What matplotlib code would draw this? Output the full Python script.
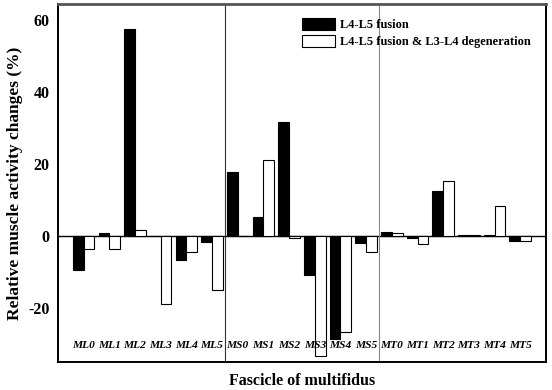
import numpy as np
import matplotlib
matplotlib.use('Agg')
import matplotlib.pyplot as plt

# Dữ liệu
categories = ['ML0', 'ML1', 'ML2', 'ML3', 'ML4', 'ML5',
              'MS0', 'MS1', 'MS2', 'MS3', 'MS4', 'MS5',
              'MT0', 'MT1', 'MT2', 'MT3', 'MT4', 'MT5']
fusion = [-9.3, 0.9, 57.7, 0.0, -6.6, -1.7,
          17.9, 5.3, 31.7, -10.9, -28.7, -1.9,
          1.2, -0.4, 12.5, 0.3, 0.3, -1.4]
fusion_degen = [-3.7, -3.7, 1.8, -19.0, -4.4, -15.1,
                0.0, 21.1, -0.4, -33.3, -26.8, -4.4,
                1.0, -2.1, 15.3, 0.3, 8.5, -1.3]
y_ticks = [-20, 0, 20, 40, 60]

plt.rcParams['font.family'] = ['Liberation Serif', 'DejaVu Serif']
plt.rcParams['font.weight'] = 'bold'

fig = plt.figure(figsize=(5.52, 3.90), dpi=100)
ax = fig.add_axes([0.105, 0.072, 0.884, 0.918])

x = np.arange(len(categories))
w = 0.42
ax.bar(x - w / 2, fusion, w, color='black', edgecolor='black', linewidth=0.8,
       label='L4-L5 fusion')
ax.bar(x + w / 2, fusion_degen, w, color='white', edgecolor='black', linewidth=0.8,
       label='L4-L5 fusion & L3-L4 degeneration')

ax.axhline(0, color='black', linewidth=1.0, zorder=0)
ax.axvline(5.5, color='#333333', linewidth=0.8, zorder=0)
ax.axvline(11.5, color='#888888', linewidth=0.8, zorder=0)

# Nhãn danh mục bên trong trục
for xi, name in zip(x, categories):
    ax.text(xi, -30.5, name, ha='center', va='center', fontsize=8.2,
            style='italic', fontweight='bold')

ax.set_xlim(-1, 18)
ax.set_ylim(-35, 64.6)
ax.set_xticks([])
ax.set_yticks(y_ticks)
ax.set_yticklabels([str(t) for t in y_ticks], fontsize=11.5, fontweight='bold')
ax.tick_params(axis='y', length=0, pad=6)

for s in ['left', 'right', 'bottom']:
    ax.spines[s].set_linewidth(1.4)
    ax.spines[s].set_color('black')
ax.spines['top'].set_linewidth(2.0)
ax.spines['top'].set_color('#555555')

ax.set_ylabel('Relative muscle activity changes (%)', fontsize=12.5, fontweight='bold',
              labelpad=4)
ax.set_xlabel('Fascicle of multifidus', fontsize=11.5, fontweight='bold', labelpad=8)

ax.legend(loc='upper left', bbox_to_anchor=(0.482, 0.985), frameon=False,
          handlelength=2.7, handleheight=1.1, borderaxespad=0.3,
          labelspacing=0.3, handletextpad=0.35, prop={'weight': 'bold', 'size': 8.9})

fig.savefig('out.png', dpi=100)
